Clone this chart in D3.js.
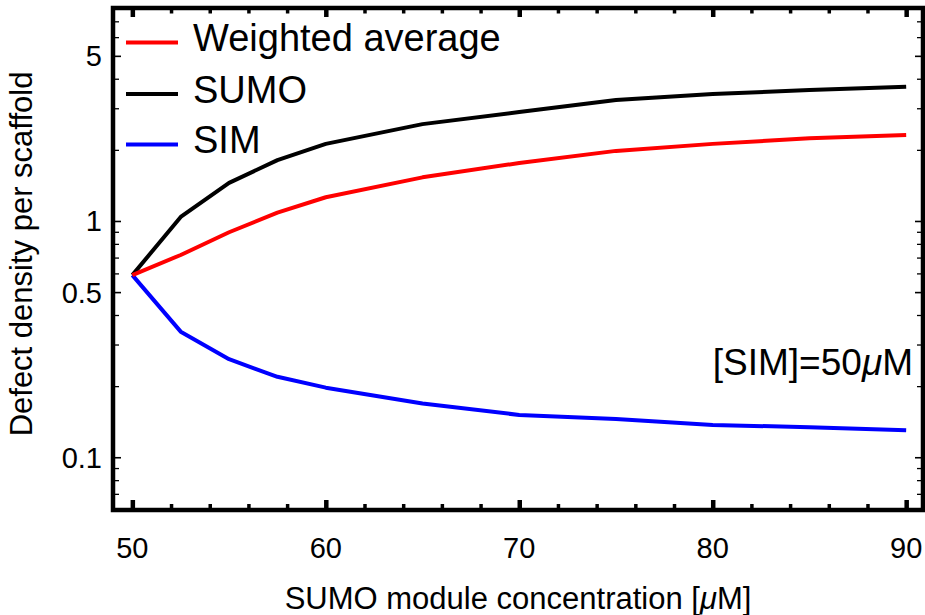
<!DOCTYPE html>
<html>
<head>
<meta charset="utf-8">
<script src="https://cdn.jsdelivr.net/npm/d3@7"></script>
<style>
  body { margin: 0; background: #fff; }
  text { font-family: "Liberation Sans", Arial, sans-serif; fill: #000; }
</style>
</head>
<body>
<div id="chart"></div>
<script>
// data
var sumoConc = [50, 52.5, 55, 57.5, 60, 65, 70, 75, 80, 85, 90];
var weighted = [0.59, 0.718, 0.896, 1.084, 1.26, 1.53, 1.76, 1.98, 2.12, 2.24, 2.31];
var sumo     = [0.59, 1.04, 1.45, 1.81, 2.12, 2.57, 2.89, 3.25, 3.45, 3.58, 3.70];
var sim      = [0.59, 0.340, 0.260, 0.219, 0.197, 0.169, 0.151, 0.145, 0.137, 0.134, 0.130];

var seriesNames = ['Weighted average', 'SUMO', 'SIM'];
var xMajor = [50, 60, 70, 80, 90];
var xMinor = [52, 54, 56, 58, 62, 64, 66, 68, 72, 74, 76, 78, 82, 84, 86, 88];
var yMajor = [0.1, 0.5, 1, 5];
var yMinor = [0.06, 0.07, 0.08, 0.09, 0.2, 0.3, 0.4, 0.6, 0.7, 0.8, 0.9, 2, 3, 4, 6, 7];

var W = 925, H = 615;
var pLeft = 113, pRight = 923, pTop = 8, pBottom = 510;

var x = d3.scaleLinear().domain([49.0, 90.87]).range([pLeft, pRight]);
var y = d3.scaleLog().domain([0.0598, 7.97]).range([pBottom, pTop]);

var svg = d3.select('#chart').append('svg')
  .attr('width', W)
  .attr('height', H);

// lines
var colors = {'Weighted average': '#ff0000', 'SUMO': '#000000', 'SIM': '#0000ff'};
var values = {'Weighted average': weighted, 'SUMO': sumo, 'SIM': sim};

var line = d3.line()
  .x(function(d) { return x(d[0]); })
  .y(function(d) { return y(d[1]); });

['SIM', 'SUMO', 'Weighted average'].forEach(function(name) {
  var pts = sumoConc.map(function(c, i) { return [c, values[name][i]]; });
  svg.append('path')
    .datum(pts)
    .attr('d', line)
    .attr('fill', 'none')
    .attr('stroke', colors[name])
    .attr('stroke-width', 4)
    .attr('stroke-linejoin', 'round');
});

// ticks (inward, on all four sides)
function ticks(g, sw) {
  g.selectAll('line').style('stroke', '#000').style('stroke-width', sw);
  g.select('.domain').remove();
}
svg.append('g').attr('transform', 'translate(0,' + pBottom + ')')
  .call(d3.axisBottom(x).tickValues(xMinor).tickSize(-6).tickFormat(''))
  .call(ticks, 3.5);
svg.append('g').attr('transform', 'translate(0,' + pBottom + ')')
  .call(d3.axisBottom(x).tickValues(xMajor).tickSize(-10).tickFormat(''))
  .call(ticks, 4.5);
svg.append('g').attr('transform', 'translate(0,' + pTop + ')')
  .call(d3.axisTop(x).tickValues(xMinor).tickSize(-5.5).tickFormat(''))
  .call(ticks, 3.5);
svg.append('g').attr('transform', 'translate(0,' + pTop + ')')
  .call(d3.axisTop(x).tickValues(xMajor).tickSize(-9).tickFormat(''))
  .call(ticks, 4.5);

svg.append('g').attr('transform', 'translate(' + pLeft + ',0)')
  .call(d3.axisLeft(y).tickValues(yMinor).tickSize(-6).tickFormat(''))
  .call(ticks, 1.3);
svg.append('g').attr('transform', 'translate(' + pLeft + ',0)')
  .call(d3.axisLeft(y).tickValues(yMajor).tickSize(-8).tickFormat(''))
  .call(ticks, 1.6);
svg.append('g').attr('transform', 'translate(' + pRight + ',0)')
  .call(d3.axisRight(y).tickValues(yMinor).tickSize(-6).tickFormat(''))
  .call(ticks, 1.3);
svg.append('g').attr('transform', 'translate(' + pRight + ',0)')
  .call(d3.axisRight(y).tickValues(yMajor).tickSize(-8).tickFormat(''))
  .call(ticks, 1.6);

// frame
svg.append('rect')
  .attr('x', pLeft).attr('y', pTop)
  .attr('width', pRight - pLeft).attr('height', pBottom - pTop)
  .attr('fill', 'none').attr('stroke', '#000').attr('stroke-width', 4.5);

// tick labels
svg.selectAll('.xlab').data(xMajor).enter().append('text')
  .attr('class', 'xlab')
  .attr('x', function(d) { return x(d); })
  .attr('y', 558)
  .attr('text-anchor', 'middle')
  .style('font-size', '29px')
  .text(function(d) { return d; });

svg.selectAll('.ylab').data(yMajor).enter().append('text')
  .attr('class', 'ylab')
  .attr('x', 102)
  .attr('y', function(d) { return y(d); })
  .attr('dy', '0.36em')
  .attr('text-anchor', 'end')
  .style('font-size', '29px')
  .text(function(d) { return d; });

// axis titles
var xt = svg.append('text')
  .attr('x', (pLeft + pRight) / 2)
  .attr('y', 609)
  .attr('text-anchor', 'middle')
  .style('font-size', '31px');
xt.append('tspan').text('SUMO module concentration [');
xt.append('tspan').style('font-style', 'italic').text('\u03bc');
xt.append('tspan').text('M]');

svg.append('text')
  .attr('transform', 'translate(32,254) rotate(-90)')
  .attr('text-anchor', 'middle')
  .style('font-size', '31px')
  .text('Defect density per scaffold');

// legend
var legY = [42.5, 94, 144.5];
seriesNames.forEach(function(name, i) {
  svg.append('line')
    .attr('x1', 126).attr('x2', 178)
    .attr('y1', legY[i]).attr('y2', legY[i])
    .attr('stroke', colors[name]).attr('stroke-width', 4);
  svg.append('text')
    .attr('x', 193)
    .attr('y', legY[i] + 8.5)
    .style('font-size', '38px')
    .text(name);
});

// annotation
var ann = svg.append('text')
  .attr('x', 913)
  .attr('y', 375)
  .attr('text-anchor', 'end')
  .style('font-size', '37px');
ann.append('tspan').text('[SIM]=50');
ann.append('tspan').style('font-style', 'italic').text('\u03bc');
ann.append('tspan').text('M');
</script>
</body>
</html>
